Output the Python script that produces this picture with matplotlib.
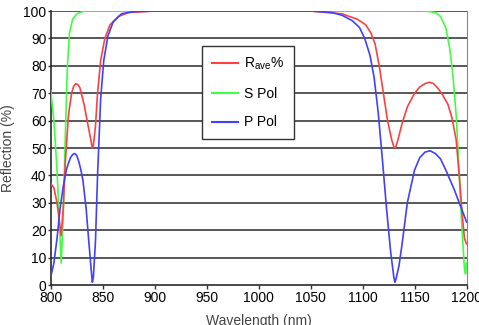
import matplotlib.pyplot as plt
from matplotlib.lines import Line2D

plt.rcParams['font.family'] = ['Liberation Sans', 'DejaVu Sans']

# P polarisation (blue)
p_wl = [800, 803, 806, 809, 812, 815, 817, 819, 821, 823, 825, 827, 829, 831, 834, 837,
        839, 840, 841, 843, 845, 848, 851, 855, 860, 868, 880, 900, 1000, 1050, 1070,
        1080, 1090, 1097, 1102, 1107, 1111, 1115, 1119, 1123, 1127, 1130, 1131, 1132,
        1135, 1138, 1143, 1150, 1155, 1160, 1165, 1170, 1175, 1180, 1188, 1195, 1200]
p_val = [3, 8, 17, 28, 36, 42, 44.5, 46.5, 47.6, 48, 47.3, 45, 42, 38, 28, 14,
         5, 1, 3, 16, 40, 68, 82, 91, 96, 99, 99.8, 100, 100, 100, 99.5,
         98.5, 96.5, 94, 90, 84, 76, 63, 46, 28, 12, 3, 1, 2,
         7, 15, 30, 42, 46.5, 48.5, 49, 48, 46, 42, 35, 28, 23]

# average reflection (red)
r_wl = [800, 803, 806, 808, 810, 812, 814, 817, 820, 822, 824, 826, 828, 832, 836, 839,
        840, 841, 843, 845, 848, 852, 857, 865, 875, 900, 1050, 1080, 1095, 1103, 1108,
        1112, 1116, 1120, 1124, 1128, 1130, 1131, 1132, 1134, 1138, 1143, 1150, 1155,
        1160, 1164, 1168, 1172, 1176, 1182, 1186, 1190, 1193, 1196, 1198, 1200]
r_val = [37, 35.5, 30, 24, 18, 28, 45, 62, 70, 72.5, 73.5, 73.2, 72, 66, 58, 52,
         50, 51, 58, 70, 82, 90, 95, 98, 99.5, 100, 100, 99, 97, 95, 92,
         88, 80, 70, 60, 53, 50.5, 50, 50.5, 53, 59, 65, 70, 72.3,
         73.5, 74, 73.6, 72, 70, 66, 61, 53, 40, 25, 17, 15]

# S polarisation (green)
s_wl = [800, 803, 806, 808, 810, 812, 814, 816, 818, 821, 825, 832, 1160, 1170, 1175,
        1180, 1184, 1187, 1190, 1192, 1194, 1196, 1198, 1199, 1200]
s_val = [71, 60, 42, 25, 8, 25, 55, 80, 92, 97, 99, 100, 100, 99.5, 98,
         94, 86, 76, 62, 48, 32, 18, 6, 4, 8]

fig = plt.figure(figsize=(4.79, 3.25), dpi=100)
ax = fig.add_axes([0.106, 0.123, 0.868, 0.843])

for y in range(10, 101, 10):
    ax.axhline(y, color='#2a2a2a', lw=1.1, zorder=1)

ax.plot(s_wl, s_val, color='#40ff40', lw=1.2, zorder=3)
ax.plot(r_wl, r_val, color='#ff4040', lw=1.2, zorder=4)
ax.plot(p_wl, p_val, color='#4040ff', lw=1.2, zorder=5)

ax.set_xlim(800, 1200)
ax.set_ylim(0, 100)
ax.set_xticks(range(800, 1201, 50))
ax.set_yticks(range(0, 101, 10))
ax.tick_params(labelsize=10, length=3, width=1, color='#333333', pad=1)
ax.tick_params(axis='y', length=2)
ax.spines['top'].set_visible(False)
for s in ['left', 'bottom']:
    ax.spines[s].set_color('#2a2a2a')
    ax.spines[s].set_linewidth(1.2)
ax.spines['right'].set_color('#888888')

ax.set_ylabel('Reflection (%)', fontsize=10, color='#444444')
ax.yaxis.set_label_coords(-0.085, 0.5)
ax.set_xlabel('Wavelength (nm)', fontsize=10, color='#444444', labelpad=7)

handles = [Line2D([], [], color='#ff4040', lw=1.5),
           Line2D([], [], color='#40ff40', lw=1.5),
           Line2D([], [], color='#4040ff', lw=1.5)]
leg = ax.legend(handles, [r'R$_{\mathregular{ave}}$%', 'S Pol', 'P Pol'],
                loc='upper left', bbox_to_anchor=(0.364, 0.872), borderaxespad=0,
                fontsize=10, frameon=True, fancybox=False, framealpha=1,
                edgecolor='#333333', handlelength=1.9, labelspacing=1.05,
                borderpad=0.7, handletextpad=0.45)
leg.get_frame().set_linewidth(1.0)
leg.set_zorder(10)

fig.savefig('out.png', dpi=100)
